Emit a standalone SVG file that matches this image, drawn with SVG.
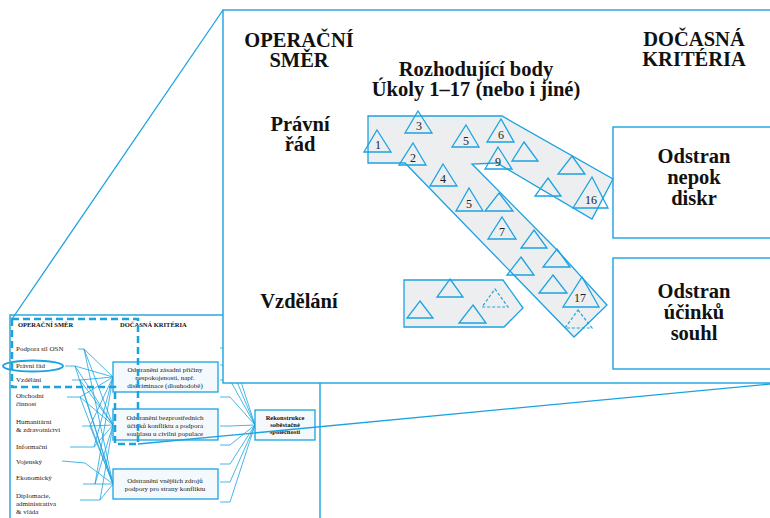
<svg xmlns="http://www.w3.org/2000/svg" width="770" height="518" viewBox="0 0 770 518">
<style>
.b{stroke:#1ba3e0;fill:none;stroke-width:1.3}
.wb{stroke:#1ba3e0;fill:#fff;stroke-width:1.4}
.thin{stroke:#1ba3e0;fill:none;stroke-width:0.8}
.box{stroke:#1ba3e0;fill:#f4f9fd;stroke-width:1.3}
.s{font-family:"Liberation Serif",serif;font-size:7px;fill:#222}
.sb{font-family:"Liberation Serif",serif;font-size:6.5px;font-weight:bold;fill:#111}
.big{font-family:"Liberation Serif",serif;font-size:20.5px;font-weight:bold;fill:#111;text-anchor:middle}
.num{font-family:"Liberation Serif",serif;font-size:12px;fill:#222;text-anchor:middle}
.tri{stroke:#1ba3e0;fill:none;stroke-width:1.3}
.dash{stroke:#1ba3e0;fill:none;stroke-width:1.2;stroke-dasharray:3,2}
.grey{fill:#eceef0;stroke:#1ba3e0;stroke-width:1.3}
</style>
<rect width="770" height="518" fill="#fff"/>
<g id="small-diagram">
<rect x="10" y="315" width="310" height="220" class="wb"/>
<g id="connectors-small">
<path class="thin" d="M78,349H84M65,366H75M72,380H80M67,397H80M82,426H90M70,447H94M62,461L85,463M83,484H95M80,500H100"/>
<path class="thin" d="M84,349L113,377M84,349L113,425M84,349L113,484M75,366L113,377M75,366L113,425M75,366L113,484M80,380L113,377M80,380L113,425M80,380L113,484M80,397L113,377M80,397L113,425M80,397L113,484M90,426L113,377M90,426L113,425M90,426L113,484M94,447L113,377M94,447L113,425M85,463L113,484M95,484L113,377M95,484L113,425M95,484L113,484M100,500L113,484M100,500L113,425"/>
<path class="thin" d="M220,348H230L255,425M220,365H230L255,425M220,380H230L255,425M220,397H230L255,425M220,426H230L255,425M220,445H230L255,425M220,464H230L255,425M220,482H230L255,425M220,502H230L255,425"/>
</g>
<text class="sb" x="18" y="327">OPERAČNÍ SMĚR</text>
<text class="sb" x="120" y="327">DOČASNÁ KRITÉRIA</text>
<g class="s">
<text x="16" y="351">Podpora sil OSN</text>
<text x="16" y="368">Právní řád</text>
<text x="16" y="382">Vzdělání</text>
<text x="16" y="398">Obchodní</text>
<text x="16" y="406">činnost</text>
<text x="16" y="424">Humanitární</text>
<text x="16" y="432">&amp; zdravotnictví</text>
<text x="16" y="449">Informační</text>
<text x="16" y="464">Vojenský</text>
<text x="16" y="480">Ekonomický</text>
<text x="16" y="498">Diplomacie,</text>
<text x="16" y="506">administrativa</text>
<text x="16" y="514">&amp; vláda</text>
</g>
<ellipse cx="33" cy="366" rx="30" ry="5.5" fill="none" stroke="#1ba3e0" stroke-width="2"/>
<g id="crit1"><rect class="box" x="113" y="362" width="105" height="30"/>
<text class="s" text-anchor="middle" x="165" y="372">Odstranění zásadní příčiny</text>
<text class="s" text-anchor="middle" x="165" y="380">nespokojenosti, např.</text>
<text class="s" text-anchor="middle" x="165" y="388">diskriminace (dlouhodobě)</text></g>
<g id="crit2"><rect class="box" x="113" y="409" width="105" height="31"/>
<text class="s" text-anchor="middle" x="165" y="420">Odstranění bezprostředních</text>
<text class="s" text-anchor="middle" x="165" y="428">účinků konfliktu a podpora</text>
<text class="s" text-anchor="middle" x="165" y="436">souhlasu u civilní populace</text></g>
<g id="crit3"><rect class="box" x="113" y="469" width="105" height="30"/>
<text class="s" text-anchor="middle" x="165" y="483">Odstranění vnějších zdrojů</text>
<text class="s" text-anchor="middle" x="165" y="491">podpory pro strany konfliktu</text></g>
<g id="rekon"><rect class="box" x="255" y="410" width="60" height="30"/>
<text class="sb" text-anchor="middle" x="285" y="420">Rekonstrukce</text>
<text class="sb" text-anchor="middle" x="285" y="427">soběstačné</text>
<text class="sb" text-anchor="middle" x="285" y="434">společnosti</text></g>
<polygon points="12,319 138,319 138,444 115,444 115,387 12,387" fill="none" stroke="#1ba3e0" stroke-width="2.5" stroke-dasharray="7,4"/>
</g>
<g id="panel">
<rect x="223" y="10" width="560" height="373" class="wb" stroke-width="1.6"/>
<text class="big" x="299" y="47">OPERAČNÍ</text>
<text class="big" x="299" y="67">SMĚR</text>
<text class="big" x="476" y="76">Rozhodující body</text>
<text class="big" x="476" y="96">Úkoly 1–17 (nebo i jiné)</text>
<text class="big" x="694" y="46">DOČASNÁ</text>
<text class="big" x="694" y="66">KRITÉRIA</text>
<text class="big" x="300" y="131">Právní</text>
<text class="big" x="300" y="151">řád</text>
<text class="big" x="299" y="308">Vzdělání</text>
<g id="critA"><rect x="613" y="127" width="170" height="111" class="wb"/>
<text class="big" x="694" y="163">Odstran</text>
<text class="big" x="694" y="184">nepok</text>
<text class="big" x="694" y="205">diskr</text></g>
<g id="critB"><rect x="613" y="258" width="170" height="111" class="wb"/>
<text class="big" x="694" y="298">Odstran</text>
<text class="big" x="694" y="319">účinků</text>
<text class="big" x="694" y="340">souhl</text></g>
<g id="shape-pravni">
<polygon class="grey" points="368,116 502,116 613,179 592,219 497,163 472,164 557,250 607,305 574,337 405,163 368,163"/>
</g>
<g id="shape-vzdelani">
<polygon class="grey" points="404,280 503,280 523,308 504,327 404,327"/>
</g>
<g id="triangles">
<polygon class="tri" points="377,130 391,152 364,152"/><text class="num" x="378" y="149">1</text>
<polygon class="tri" points="418,111 432,133 405,133"/><text class="num" x="419" y="130">3</text>
<polygon class="tri" points="413,143 426,165 399,165"/><text class="num" x="413" y="162">2</text>
<polygon class="tri" points="466,125 479,147 452,147"/><text class="num" x="466" y="145">5</text>
<polygon class="tri" points="501,119 514,142 487,142"/><text class="num" x="501" y="139">6</text>
<polygon class="tri" points="498,147 512,169 485,169"/><text class="num" x="498" y="166">9</text>
<polygon class="tri" points="524,142 538,161 512,161"/>
<polygon class="tri" points="572,156 585,174 558,174"/>
<polygon class="tri" points="592,177 608,208 573,208"/><text class="num" x="591" y="204">16</text>
<polygon class="tri" points="548,178 561,196 535,196"/>
<polygon class="tri" points="443,164 457,186 430,186"/><text class="num" x="443" y="183">4</text>
<polygon class="tri" points="469,188 483,211 456,211"/><text class="num" x="469" y="208">5</text>
<polygon class="tri" points="499,193 513,211 485,211"/>
<polygon class="tri" points="502,217 516,239 488,239"/><text class="num" x="502" y="236">7</text>
<polygon class="tri" points="534,230 547,248 521,248"/>
<polygon class="tri" points="557,249 570,267 543,267"/>
<polygon class="tri" points="521,257 534,275 507,275"/>
<polygon class="tri" points="553,275 567,293 539,293"/>
<polygon class="tri" points="582,277 599,307 563,307"/><text class="num" x="580" y="302">17</text>
<polygon class="dash" points="578,310 592,328 565,328"/>
<polygon class="tri" points="450,279 463,297 437,297"/>
<polygon class="tri" points="420,301 433,318 407,318"/>
<polygon class="tri" points="473,305 486,323 459,323"/>
<polygon class="dash" points="495,289 508,307 482,307"/>
</g>
</g>
<g id="zoom-lines">
<path class="b" d="M223,10L12,319"/>
<path class="b" d="M770,384L138,444"/>
</g>
</svg>
